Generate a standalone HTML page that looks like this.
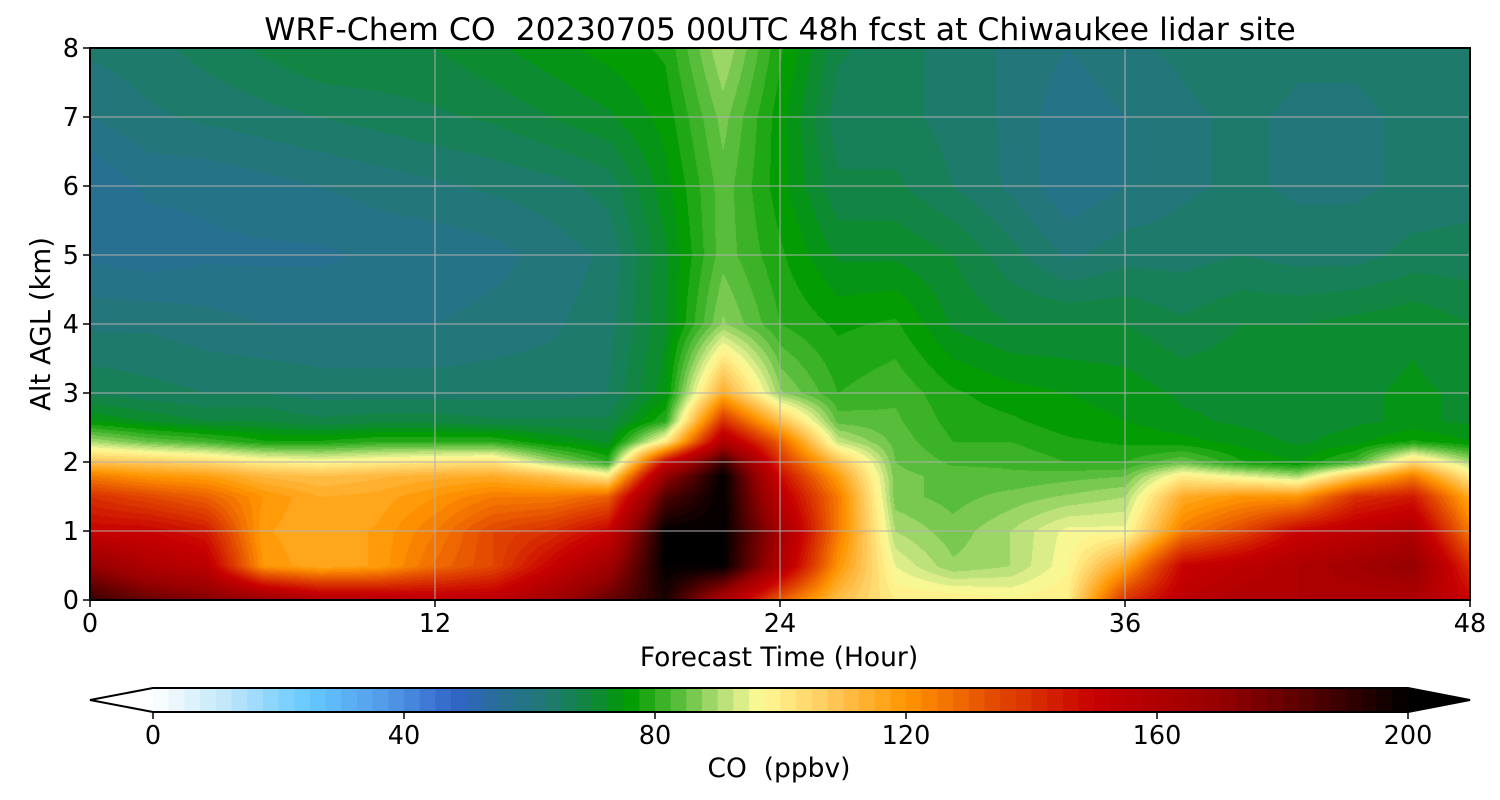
<!DOCTYPE html>
<html><head><meta charset="utf-8"><style>
body{margin:0;background:#fff;font-family:"Liberation Sans","DejaVu Sans",sans-serif;}
#wrap{position:relative;width:1500px;height:800px;overflow:hidden;}
</style></head><body>
<div id="wrap">
<canvas id="cv" width="1380" height="552" style="position:absolute;left:90px;top:48px"></canvas>
<svg id="sv" width="1500" height="800" style="position:absolute;left:0;top:0" font-family="DejaVu Sans, Liberation Sans, sans-serif"></svg>
</div>
<script>
const times=[0,2,4,6,8,10,12,14,16,18,20,22,24,26,28,30,32,34,36,38,40,42,44,46,48];
const alts=[0,0.5,1,1.5,1.8,2.0,2.3,2.6,3,4,5,6,7,8];
const coValues=[
[190,170,150,140,125,110,90,75,67,62,57,55,60,63],
[180,160,150,135,120,108,85,72,66,62,56,58,62,64],
[175,155,145,130,118,105,82,70,65,61,57,58,63,66],
[170,120,118,120,112,100,78,70,65,60,57,59,64,68],
[160,115,115,115,110,98,78,68,64,60,57,60,65,70],
[158,118,118,116,112,100,80,69,64,60,58,61,66,70],
[155,128,125,120,114,102,80,69,64,60,58,62,67,70],
[155,135,135,125,115,103,80,68,64,61,59,63,68,72],
[165,150,140,125,110,90,75,68,64,62,61,64,70,74],
[180,165,150,130,100,80,72,68,65,64,63,66,72,76],
[195,200,200,185,170,150,100,80,74,72,72,74,76,78],
[160,200,200,200,200,190,160,140,115,88,84,84,86,90],
[130,160,165,155,148,140,130,110,88,80,78,76,76,78],
[110,120,125,125,118,110,92,84,80,77,72,68,66,68],
[100,95,90,86,86,85,84,83,82,78,72,68,66,66],
[100,88,86,84,84,82,80,79,78,72,70,65,64,64],
[98,90,90,86,83,82,80,78,76,70,66,62,62,62],
[100,97,96,88,84,80,78,76,75,70,62,58,58,60],
[140,118,96,90,85,80,77,75,74,70,64,60,60,62],
[155,150,125,115,100,85,76,73,72,68,64,62,62,63],
[160,155,135,120,95,78,74,72,72,70,65,63,63,64],
[160,160,150,120,90,75,72,71,71,70,64,62,62,63],
[160,165,155,140,110,82,74,72,72,71,64,62,62,63],
[160,170,160,145,125,105,78,73,73,72,66,63,63,64],
[150,140,125,115,100,90,75,72,72,70,66,64,64,65]];
const xTicks=[0,12,24,36,48];
const yTicks=[0,1,2,3,4,5,6,7,8];
const cbTicks=[0,40,80,120,160,200];
const cStops=[[0,[255,255,255]],[12,[190,230,250]],[25,[100,200,255]],[38,[80,150,230]],[48,[50,100,200]],[55,[40,110,150]],[62,[34,120,120]],[70,[15,135,60]],[76,[0,155,0]],[84,[90,190,60]],[92,[200,230,130]],[97,[255,250,150]],[108,[255,200,90]],[120,[255,150,0]],[135,[225,70,0]],[150,[200,0,0]],[170,[150,0,0]],[185,[80,0,0]],[200,[0,0,0]]];
function cmap(v){v=Math.max(0,Math.min(200,v));for(let i=1;i<cStops.length;i++){if(v<=cStops[i][0]){const a=cStops[i-1],b=cStops[i];const f=(v-a[0])/(b[0]-a[0]);return a[1].map((c,k)=>Math.round(c+(b[1][k]-c)*f));}}return [0,0,0];}
const PW=1380,PH=552;
const xS=t=>t/48*PW, yS=z=>PH-z/8*PH;
function interp(t,z){let i=0;while(i<times.length-2&&t>times[i+1])i++;let j=0;while(j<alts.length-2&&z>alts[j+1])j++;
const ft=(t-times[i])/(times[i+1]-times[i]),fz=(z-alts[j])/(alts[j+1]-alts[j]);
const a=coValues[i][j],b=coValues[i+1][j],c=coValues[i][j+1],d=coValues[i+1][j+1];
return (a*(1-ft)+b*ft)*(1-fz)+(c*(1-ft)+d*ft)*fz;}
const ctx=document.getElementById('cv').getContext('2d');
const img=ctx.createImageData(PW,PH);
for(let y=0;y<PH;y++){const z=(PH-y)/PH*8;for(let x=0;x<PW;x++){const t=x/PW*48;let v=interp(t,z);v=Math.floor(v/2.5)*2.5+1.25;const c=cmap(v);const o=(y*PW+x)*4;img.data[o]=c[0];img.data[o+1]=c[1];img.data[o+2]=c[2];img.data[o+3]=255;}}
ctx.putImageData(img,0,0);
const NS='http://www.w3.org/2000/svg';const sv=document.getElementById('sv');
function mk(tag,at,txt){const e=document.createElementNS(NS,tag);for(const k in at)e.setAttribute(k,at[k]);if(txt!==undefined)e.textContent=txt;sv.appendChild(e);return e;}
let e;
xTicks.forEach(t=>{const x=90+xS(t);
if(t>0&&t<48){e=mk('line',{x1:x,x2:x,y1:48,y2:600,stroke:'#b0b0b0','stroke-width':1});}
e=mk('line',{x1:x,x2:x,y1:600,y2:607,stroke:'#000','stroke-width':1.5});
e=mk('text',{x:x,y:632,'font-size':25.5,'text-anchor':'middle'},t);});
yTicks.forEach(z=>{const y=48+yS(z);
if(z>0&&z<8){e=mk('line',{x1:90,x2:1470,y1:y,y2:y,stroke:'#b0b0b0','stroke-width':1});}
e=mk('line',{x1:83,x2:90,y1:y,y2:y,stroke:'#000','stroke-width':1.5});
e=mk('text',{x:79,y:y+9,'font-size':25.5,'text-anchor':'end'},z);});
e=mk('rect',{x:90,y:48,width:1380,height:552,fill:'none',stroke:'#000','stroke-width':2});
e=mk('text',{x:780,y:40,'font-size':31.5,'text-anchor':'middle','xml:space':'preserve',style:'white-space:pre'},'WRF-Chem CO  20230705 00UTC 48h fcst at Chiwaukee lidar site');
e=mk('text',{x:779,y:666,'font-size':26.5,'text-anchor':'middle'},'Forecast Time (Hour)');
e=mk('text',{x:50,y:324,'font-size':27.5,'text-anchor':'middle',transform:'rotate(-90 50 324)'},'Alt AGL (km)');
const cbX0=153,cbX1=1408,cbY=688,cbH=24;const cb=v=>cbX0+v/200*(cbX1-cbX0);
e=mk('polygon',{points:`${cbX0},${cbY} 90,${cbY+cbH/2} ${cbX0},${cbY+cbH}`,fill:'#fff'});
e=mk('polygon',{points:`${cbX1},${cbY} 1470,${cbY+cbH/2} ${cbX1},${cbY+cbH}`,fill:'#000'});
for(let v=0;v<200;v+=2.5){const c=cmap(v+1.25);e=mk('rect',{x:cb(v),y:cbY,width:cb(v+2.5)-cb(v)+0.6,height:cbH,fill:`rgb(${c})`});}
e=mk('polygon',{points:`${cbX0},${cbY} ${cbX1},${cbY} 1470,${cbY+cbH/2} ${cbX1},${cbY+cbH} ${cbX0},${cbY+cbH} 90,${cbY+cbH/2}`,fill:'none',stroke:'#000','stroke-width':2});
cbTicks.forEach(v=>{const x=cb(v);e=mk('line',{x1:x,x2:x,y1:cbY+cbH,y2:cbY+cbH+7,stroke:'#000','stroke-width':1.5});
e=mk('text',{x:x,y:744,'font-size':25.5,'text-anchor':'middle'},v);});
e=mk('text',{x:779,y:777,'font-size':26.5,'text-anchor':'middle','xml:space':'preserve',style:'white-space:pre'},'CO  (ppbv)');
</script>
</body></html>
